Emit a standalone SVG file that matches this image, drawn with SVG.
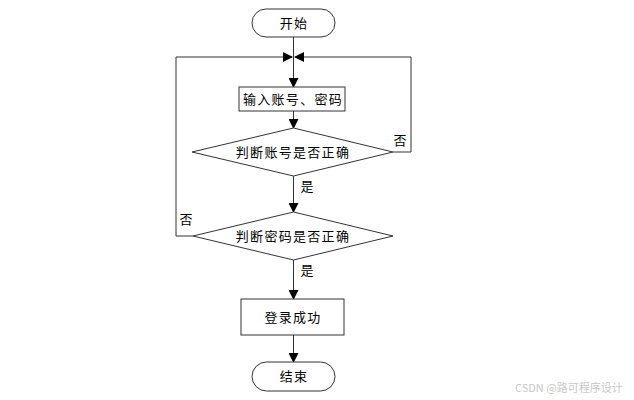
<svg xmlns="http://www.w3.org/2000/svg" width="634" height="400" viewBox="0 0 634 400">
<defs>
<marker id="ah" markerWidth="10" markerHeight="10" refX="9" refY="5" orient="auto" markerUnits="userSpaceOnUse">
<path d="M0,0 L10,5 L0,10 Z" fill="#000"/>
</marker>
<style>
.s{fill:#fff;stroke:#333;stroke-width:1}
.l{fill:none;stroke:#333;stroke-width:1}
.t{font-family:"Noto Sans CJK SC","Noto Sans",sans-serif;font-size:13px;fill:#000;text-anchor:middle;letter-spacing:1.3px}
.w{font-family:"Noto Sans CJK SC","Liberation Sans",sans-serif;font-size:11px;fill:#c8c8c8}
</style>
</defs>
<rect width="634" height="400" fill="#fff"/>
<g id="connectors">
<line class="l" x1="293.5" y1="37" x2="293.5" y2="87" marker-end="url(#ah)"/>
<line class="l" x1="293.5" y1="111" x2="293.5" y2="128" marker-end="url(#ah)"/>
<line class="l" x1="293.5" y1="176" x2="293.5" y2="212" marker-end="url(#ah)"/>
<line class="l" x1="293.5" y1="260" x2="293.5" y2="299" marker-end="url(#ah)"/>
<line class="l" x1="293.5" y1="335" x2="293.5" y2="362" marker-end="url(#ah)"/>
<polyline class="l" points="393,152 411,152 411,57 295,57" marker-end="url(#ah)"/>
<polyline class="l" points="193,236 176,236 176,57 292,57" marker-end="url(#ah)"/>
<text class="t" x="400" y="145" style="letter-spacing:0">否</text>
<text class="t" x="186" y="224" style="letter-spacing:0">否</text>
<text class="t" x="307" y="191" style="letter-spacing:0">是</text>
<text class="t" x="307" y="275" style="letter-spacing:0">是</text>
</g>
<g id="start">
<rect class="s" x="252" y="9" width="83" height="28" rx="14"/>
<text class="t" x="294" y="28">开始</text>
</g>
<g id="input">
<rect class="s" x="239" y="87" width="106" height="24"/>
<text class="t" x="293" y="104">输入账号、密码</text>
</g>
<g id="check-account">
<polygon class="s" points="293.5,128 393,152 293.5,176 192,152"/>
<text class="t" x="293" y="157">判断账号是否正确</text>
</g>
<g id="check-password">
<polygon class="s" points="293.5,212 393,236 293.5,260 193,236"/>
<text class="t" x="293" y="241">判断密码是否正确</text>
</g>
<g id="success">
<rect class="s" x="241" y="299" width="103" height="36"/>
<text class="t" x="293" y="322">登录成功</text>
</g>
<g id="end">
<rect class="s" x="252" y="362" width="83" height="29" rx="14.5"/>
<text class="t" x="294" y="381">结束</text>
</g>
<text class="w" x="515" y="392">CSDN @路可程序设计</text>
</svg>
